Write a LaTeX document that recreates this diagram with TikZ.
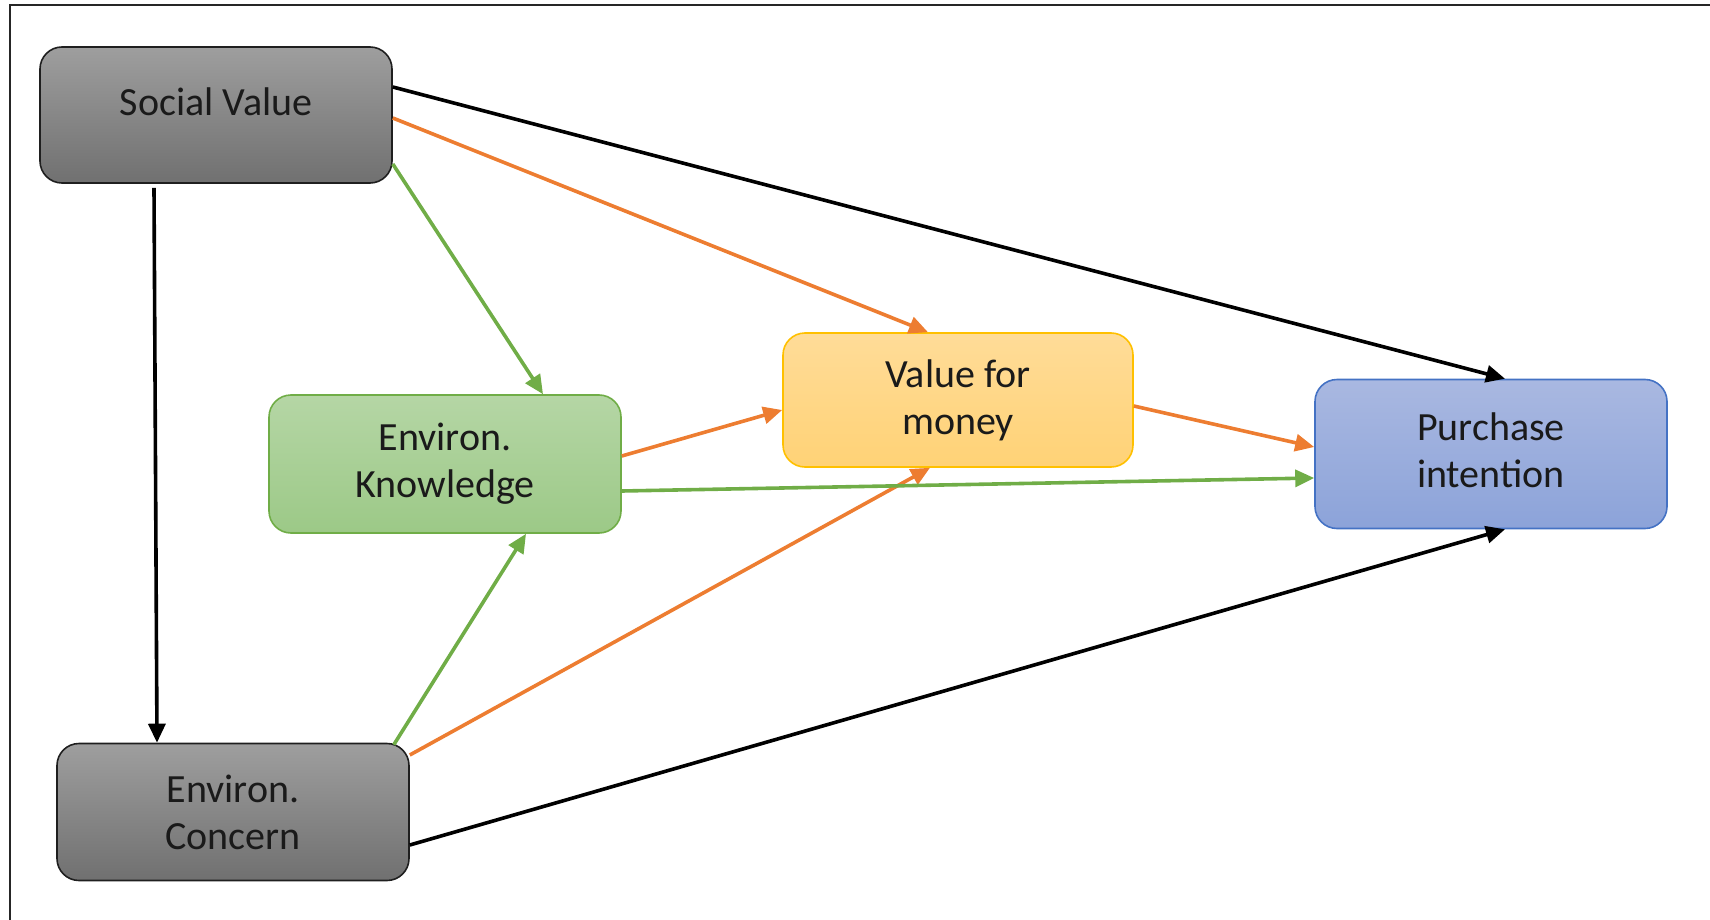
\documentclass[tikz,border=0pt]{standalone}
\usepackage{fontspec}
\setmainfont{Carlito}
\usetikzlibrary{arrows.meta}
\definecolor{ored}{HTML}{ED7D31}
\definecolor{ogreen}{HTML}{70AD47}
\definecolor{oblue}{HTML}{4472C4}
\definecolor{ogold}{HTML}{FFC000}
\definecolor{txt}{HTML}{1A1A1A}
\definecolor{kTop}{HTML}{B5D6A5}
\definecolor{kBot}{HTML}{9CC987}
\definecolor{gTop}{HTML}{FFDC98}
\definecolor{gBot}{HTML}{FFD276}
\definecolor{bTop}{HTML}{A9B8E1}
\definecolor{bBot}{HTML}{8CA3D9}
\begin{document}
\begin{tikzpicture}[x=1pt,y=-1pt,
  box/.style={rounded corners=22pt, minimum width=352pt, line width=1.6pt,
    align=center, font=\fontsize{40}{47}\selectfont, text=txt, inner sep=0pt},
  graybox/.style={box, draw=black!88, top color=black!38, bottom color=black!56},
  greenbox/.style={box, draw=ogreen, top color=kTop, bottom color=kBot},
  goldbox/.style={box, draw=ogold, top color=gTop, bottom color=gBot},
  bluebox/.style={box, draw=oblue, top color=bTop, bottom color=bBot},
  conn/.style={line width=3.6pt, -{Triangle[length=19pt,width=17pt]}},
  blk/.style={conn, draw=black},
  org/.style={conn, draw=ored},
  grn/.style={conn, draw=ogreen}]
\useasboundingbox (0,0) rectangle (1710,920);
\coordinate (fTR) at (1710,5);
\coordinate (fTL) at (10,5);
\coordinate (fBL) at (10,920);
\draw[line width=2pt, black!85] (fTR) -- (fTL) -- (fBL);

\node[graybox, minimum height=136pt] (sv) at (216,115) {\raisebox{26pt}{Social Value}};
\node[greenbox, minimum height=138pt] (ek) at (445,464) {Environ.\\Knowledge};
\node[goldbox, minimum width=350pt, minimum height=134pt] (vfm) at (958,400) {\raisebox{-5pt}{Value for}\\\raisebox{-5pt}{money}};
\node[bluebox, minimum height=149pt] (pi) at (1491,454) {\raisebox{7pt}{Purchase}\\\raisebox{7pt}{intention}};
\node[graybox, minimum height=137pt] (ec) at (233,812) {Environ.\\Concern};

% black
\draw[blk] ([xshift=-62pt,yshift=-4pt]sv.south) -- ([xshift=-76pt]ec.north);
\draw[blk] ([yshift=28pt]sv.east) -- ([xshift=14pt]pi.north);
\draw[blk] ([yshift=-33pt]ec.east) -- ([xshift=14pt]pi.south);
% orange
\draw[org] ([yshift=-3pt]sv.east) -- ([xshift=-30pt]vfm.north);
\draw[org] ([yshift=8pt]ek.east) -- ([yshift=-10pt]vfm.west);
\draw[org] ([yshift=57pt]ec.east) -- ([xshift=-28pt]vfm.south);
\draw[org] ([yshift=-6pt]vfm.east) -- ([yshift=7pt]pi.west);
% green
\draw[grn] ([yshift=-49pt]sv.east) -- ([xshift=98pt]ek.north);
\draw[grn] ([yshift=-27pt]ek.east) -- ([yshift=-24pt]pi.west);
\draw[grn] ([xshift=-16pt,yshift=-2pt]ec.north east) -- ([xshift=81pt]ek.south);
\end{tikzpicture}
\end{document}
